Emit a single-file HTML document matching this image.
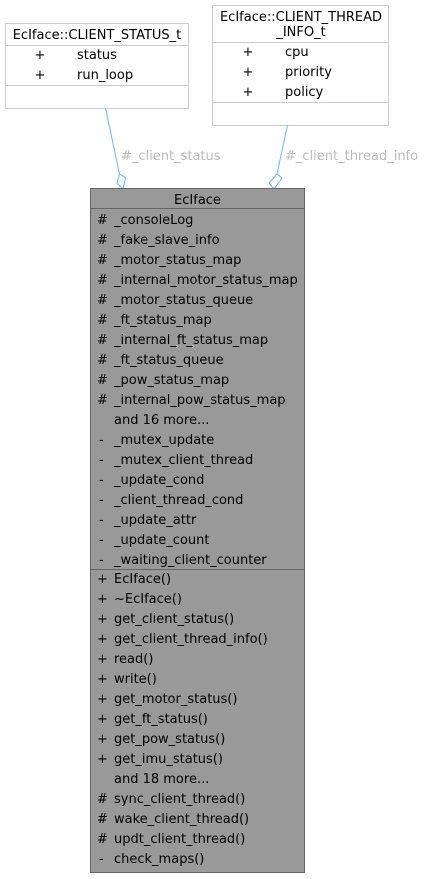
<!DOCTYPE html>
<html><head><style>
html,body{margin:0;padding:0;background:#fff;}
svg{display:block;}
text{font-family:"DejaVu Sans","Liberation Sans",sans-serif;font-size:13px;}
</style></head><body>
<svg width="426" height="879" viewBox="0 0 426 879">
<rect x="5.5" y="23.5" width="183" height="85" fill="#fff" stroke="#ccc"/>
<line x1="5" y1="45.5" x2="189" y2="45.5" stroke="#ccc"/>
<line x1="5" y1="85.5" x2="189" y2="85.5" stroke="#ccc"/>
<text x="97" y="39" text-anchor="middle">EcIface::CLIENT_STATUS_t</text>
<text x="40" y="59" text-anchor="middle">+</text><text x="77" y="59">status</text>
<text x="40" y="79" text-anchor="middle">+</text><text x="77" y="79">run_loop</text>
<rect x="212.5" y="5.5" width="176" height="120" fill="#fff" stroke="#ccc"/>
<line x1="212" y1="42.5" x2="389" y2="42.5" stroke="#ccc"/>
<line x1="212" y1="102.5" x2="389" y2="102.5" stroke="#ccc"/>
<text x="301" y="21" text-anchor="middle">EcIface::CLIENT_THREAD</text>
<text x="301" y="36" text-anchor="middle">_INFO_t</text>
<text x="248" y="56" text-anchor="middle">+</text><text x="285" y="56">cpu</text>
<text x="248" y="76" text-anchor="middle">+</text><text x="285" y="76">priority</text>
<text x="248" y="96" text-anchor="middle">+</text><text x="285" y="96">policy</text>
<g stroke="#63b8ff" stroke-width="1" fill="#fff">
<line x1="105.5" y1="108" x2="119.5" y2="174"/>
<polygon points="119.5,174 125.5,178 123,189 117,183"/>
<line x1="287.5" y1="125" x2="277" y2="174"/>
<polygon points="277,174 282,178 274,189 269,183"/>
</g>
<text x="121" y="160" fill="#bbb">#_client_status</text>
<text x="285" y="160" fill="#bbb">#_client_thread_info</text>
<rect x="90.5" y="188.5" width="214" height="684" fill="#999" stroke="#666"/>
<line x1="90" y1="208.5" x2="305" y2="208.5" stroke="#666"/>
<line x1="90" y1="569.5" x2="305" y2="569.5" stroke="#666"/>
<text x="197.5" y="204" text-anchor="middle">EcIface</text>
<g>
<text x="97" y="224">#</text><text x="114" y="224">_consoleLog</text>
<text x="97" y="244">#</text><text x="114" y="244">_fake_slave_info</text>
<text x="97" y="264">#</text><text x="114" y="264">_motor_status_map</text>
<text x="97" y="284">#</text><text x="114" y="284">_internal_motor_status_map</text>
<text x="97" y="304">#</text><text x="114" y="304">_motor_status_queue</text>
<text x="97" y="324">#</text><text x="114" y="324">_ft_status_map</text>
<text x="97" y="344">#</text><text x="114" y="344">_internal_ft_status_map</text>
<text x="97" y="364">#</text><text x="114" y="364">_ft_status_queue</text>
<text x="97" y="384">#</text><text x="114" y="384">_pow_status_map</text>
<text x="97" y="404">#</text><text x="114" y="404">_internal_pow_status_map</text>
<text x="114" y="424">and 16 more...</text>
<text x="99" y="444">-</text><text x="114" y="444">_mutex_update</text>
<text x="99" y="464">-</text><text x="114" y="464">_mutex_client_thread</text>
<text x="99" y="484">-</text><text x="114" y="484">_update_cond</text>
<text x="99" y="504">-</text><text x="114" y="504">_client_thread_cond</text>
<text x="99" y="524">-</text><text x="114" y="524">_update_attr</text>
<text x="99" y="544">-</text><text x="114" y="544">_update_count</text>
<text x="99" y="564">-</text><text x="114" y="564">_waiting_client_counter</text>
<text x="97" y="583">+</text><text x="114" y="583">EcIface()</text>
<text x="97" y="603">+</text><text x="114" y="603">~EcIface()</text>
<text x="97" y="623">+</text><text x="114" y="623">get_client_status()</text>
<text x="97" y="643">+</text><text x="114" y="643">get_client_thread_info()</text>
<text x="97" y="663">+</text><text x="114" y="663">read()</text>
<text x="97" y="683">+</text><text x="114" y="683">write()</text>
<text x="97" y="703">+</text><text x="114" y="703">get_motor_status()</text>
<text x="97" y="723">+</text><text x="114" y="723">get_ft_status()</text>
<text x="97" y="743">+</text><text x="114" y="743">get_pow_status()</text>
<text x="97" y="763">+</text><text x="114" y="763">get_imu_status()</text>
<text x="114" y="783">and 18 more...</text>
<text x="97" y="803">#</text><text x="114" y="803">sync_client_thread()</text>
<text x="97" y="823">#</text><text x="114" y="823">wake_client_thread()</text>
<text x="97" y="843">#</text><text x="114" y="843">updt_client_thread()</text>
<text x="99" y="863">-</text><text x="114" y="863">check_maps()</text>
</g>
</svg>
</body></html>
